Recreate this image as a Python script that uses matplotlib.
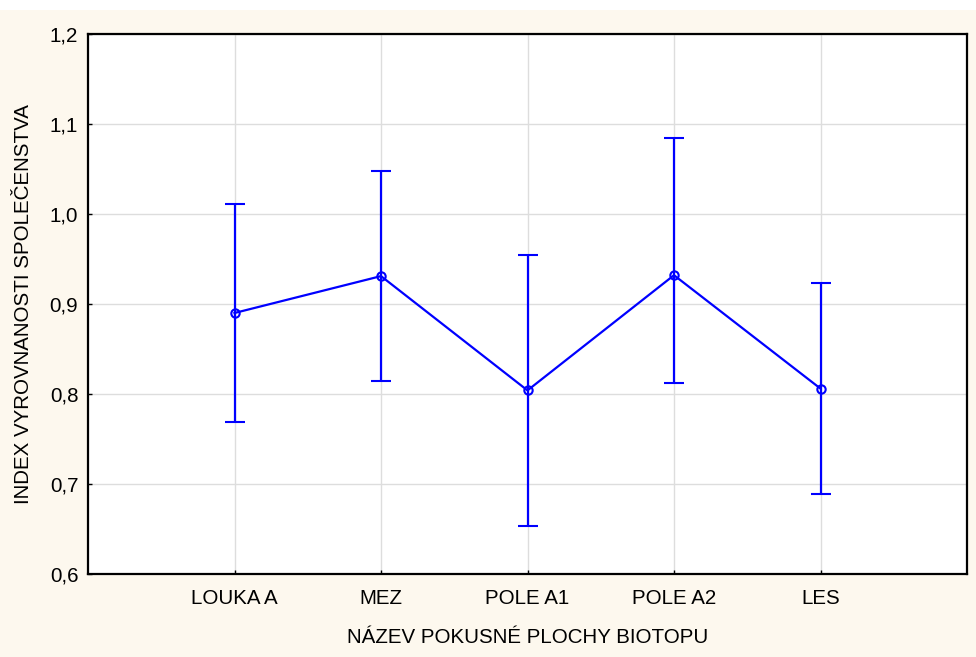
import matplotlib
matplotlib.use("Agg")
import matplotlib.pyplot as plt
from matplotlib.ticker import FuncFormatter

plt.rcParams['font.family'] = ['Liberation Sans', 'DejaVu Sans']

# data (mean with upper / lower bounds)
sites = ['LOUKA A', 'MEZ', 'POLE A1', 'POLE A2', 'LES']
means = [0.890, 0.931, 0.804, 0.932, 0.806]
upper = [1.011, 1.048, 0.955, 1.084, 0.923]
lower = [0.769, 0.814, 0.653, 0.812, 0.689]

x = list(range(1, len(sites) + 1))
err_lo = [m - l for m, l in zip(means, lower)]
err_hi = [u - m for m, u in zip(means, upper)]

fig = plt.figure(figsize=(9.76, 6.57), dpi=100)
fig.patch.set_facecolor('white')
# cream background band (white strip on top like the original export)
fig.patches.append(plt.Rectangle((0, 0), 1, 1 - 10 / 657, transform=fig.transFigure,
                                 facecolor='#FDF8EE', edgecolor='none', zorder=-5))

ax = fig.add_axes([88 / 976, (657 - 574) / 657, 879 / 976, 540 / 657])
ax.set_facecolor('white')

ax.errorbar(x, means, yerr=[err_lo, err_hi], color='#0000FF', lw=1.6,
            elinewidth=1.6, capsize=7, capthick=1.6,
            marker='o', markersize=6, markerfacecolor='none',
            markeredgecolor='#0000FF', markeredgewidth=1.5, zorder=3)

ax.set_xlim(0, 6)
ax.set_ylim(0.6, 1.2)
ax.set_xticks(x)
ax.set_xticklabels(sites)
ax.set_yticks([0.6, 0.7, 0.8, 0.9, 1.0, 1.1, 1.2])
ax.yaxis.set_major_formatter(FuncFormatter(lambda v, p: f'{v:.1f}'.replace('.', ',')))

ax.grid(True, color='#DDDDDD', lw=1)
ax.set_axisbelow(True)
for s in ax.spines.values():
    s.set_color('black')
    s.set_linewidth(1.6)

ax.tick_params(axis='both', direction='in', length=3, width=1, labelsize=14.8)
ax.tick_params(axis='x', pad=11)
ax.tick_params(axis='y', pad=7)

ax.set_xlabel('NÁZEV POKUSNÉ PLOCHY BIOTOPU', fontsize=14.8, labelpad=14)
ax.set_ylabel('INDEX VYROVNANOSTI SPOLEČENSTVA', fontsize=14.8, labelpad=12)

fig.savefig('out.png', dpi=100, facecolor=fig.get_facecolor())
